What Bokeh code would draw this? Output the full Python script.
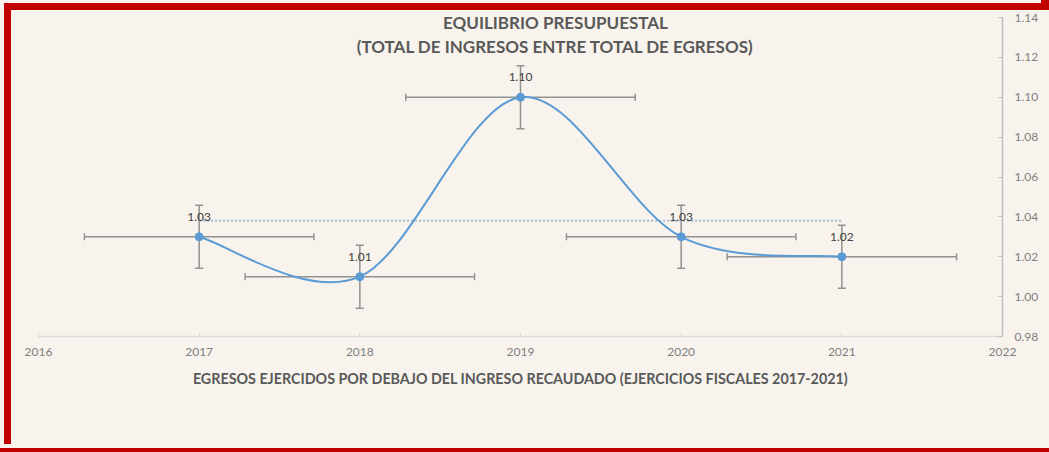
import math
from bokeh.plotting import figure
from bokeh.models import ColumnDataSource, FixedTicker, Label, Range1d, PrintfTickFormatter
from bokeh.core.properties import value
from bokeh.embed import file_html
from bokeh.resources import INLINE

# ---- data ----
years = [2017, 2018, 2019, 2020, 2021]
ratios = [1.03, 1.01, 1.10, 1.03, 1.02]
ratio_labels = ["1.03", "1.01", "1.10", "1.03", "1.02"]
x_error = 0.714
y_error = 0.0158
x_ticks = [2016, 2017, 2018, 2019, 2020, 2021, 2022]
y_ticks = [0.98, 1.00, 1.02, 1.04, 1.06, 1.08, 1.10, 1.12, 1.14]
title_line1 = "EQUILIBRIO PRESUPUESTAL"
title_line2 = "(TOTAL DE INGRESOS ENTRE TOTAL DE EGRESOS)"
x_title = "EGRESOS EJERCIDOS POR DEBAJO DEL INGRESO RECAUDADO (EJERCICIOS FISCALES 2017-2021)"
average = sum(ratios) / len(ratios)

# ---- styles ----
BG = "#f8f4ed"
RED = "#c00000"
FONT = "Lato"
BLUE = "#5b9bd5"
ERR = "#929292"

# layout: frame 965 x 331 px; the 1.14 tick sits 12 px below the frame top
FRAME_H = 331
TOP_PAD = 12
y_span = y_ticks[-1] - y_ticks[0]
y_end = y_ticks[-1] + TOP_PAD * y_span / (FRAME_H - TOP_PAD)

p = figure(width=1041, height=444,
           x_range=Range1d(x_ticks[0], x_ticks[-1]),
           y_range=Range1d(y_ticks[0], y_end),
           y_axis_location="right",
           output_backend="svg", toolbar_location=None,
           min_border_left=38, min_border_right=38,
           min_border_top=5, min_border_bottom=108,
           background_fill_color=None, border_fill_color=None,
           outline_line_color=None)
p.grid.visible = False
p.styles = {
    "background-color": BG,
    "box-shadow": (
        f"inset 4px 0 0 {BG}, inset 0 3px 0 {BG}, inset 11px 0 0 {RED}, inset 0 10px 0 {RED}, "
        f"8px -434px 0 {RED}, 0 4px 0 {BG}, 8px 4px 0 {BG}, 0 8px 0 {RED}, 8px 8px 0 {RED}"
    ),
}

xa = p.xaxis[0]
xa.ticker = FixedTicker(ticks=x_ticks)
xa.formatter = PrintfTickFormatter(format="%d")
xa.axis_line_color = "#d9d9d9"
xa.axis_line_width = 1.5
xa.major_tick_line_color = "#d9d9d9"
xa.major_tick_in = 4
xa.major_tick_out = 0
xa.minor_tick_line_color = None
xa.major_label_text_font = FONT
xa.major_label_text_font_size = "12px"
xa.major_label_text_color = "#7f7f7f"
xa.major_label_standoff = 11
xa.axis_label = x_title
xa.axis_label_text_font = FONT
xa.axis_label_text_font_style = "bold"
xa.axis_label_text_font_size = "14.3px"
xa.axis_label_text_color = "#595959"
xa.axis_label_standoff = 11

ya = p.yaxis[0]
ya.ticker = FixedTicker(ticks=y_ticks)
ya.formatter = PrintfTickFormatter(format="%.2f")
ya.bounds = (y_ticks[0], y_ticks[-1])
ya.axis_line_color = "#bfbfbf"
ya.axis_line_width = 1.5
ya.major_tick_line_color = "#bfbfbf"
ya.major_tick_in = 4
ya.major_tick_out = 0
ya.minor_tick_line_color = None
ya.major_label_text_font = FONT
ya.major_label_text_font_size = "12px"
ya.major_label_text_color = "#7f7f7f"
ya.major_label_standoff = 12

src = ColumnDataSource(dict(
    x=years, y=ratios, lab=ratio_labels,
    xl=[v - x_error for v in years], xr=[v + x_error for v in years],
    yl=[v - y_error for v in ratios], yu=[v + y_error for v in ratios],
))

# error bars
p.segment(x0="xl", y0="y", x1="xr", y1="y", source=src, line_color=ERR, line_width=1.5)
p.segment(x0="x", y0="yl", x1="x", y1="yu", source=src, line_color=ERR, line_width=1.5)
p.scatter(x="xl", y="y", source=src, marker="dash", size=7, angle=math.pi / 2, line_color=ERR, line_width=1.5)
p.scatter(x="xr", y="y", source=src, marker="dash", size=7, angle=math.pi / 2, line_color=ERR, line_width=1.5)
p.scatter(x="x", y="yl", source=src, marker="dash", size=8, line_color=ERR, line_width=1.5)
p.scatter(x="x", y="yu", source=src, marker="dash", size=8, line_color=ERR, line_width=1.5)

# average dotted line
p.line(x=[years[0], years[-1]], y=[average, average], line_color="#a3b8d6",
       line_width=2, line_dash="2 2")

# smoothed line (Catmull-Rom as cubic Bezier segments)
n = len(years)
bz = dict(x0=[], y0=[], x1=[], y1=[], cx0=[], cy0=[], cx1=[], cy1=[])
for i in range(n - 1):
    a, b = max(i - 1, 0), min(i + 2, n - 1)
    bz["x0"].append(years[i]); bz["y0"].append(ratios[i])
    bz["x1"].append(years[i + 1]); bz["y1"].append(ratios[i + 1])
    bz["cx0"].append(years[i] + (years[i + 1] - years[a]) / 6)
    bz["cy0"].append(ratios[i] + (ratios[i + 1] - ratios[a]) / 6)
    bz["cx1"].append(years[i + 1] - (years[b] - years[i]) / 6)
    bz["cy1"].append(ratios[i + 1] - (ratios[b] - ratios[i]) / 6)
p.bezier(x0="x0", y0="y0", x1="x1", y1="y1", cx0="cx0", cy0="cy0", cx1="cx1", cy1="cy1",
         source=ColumnDataSource(bz), line_color=BLUE, line_width=2)

p.scatter(x="x", y="y", source=src, size=8, fill_color=BLUE, line_color=BLUE)

p.text(x="x", y="y", text="lab", source=src, y_offset=-20,
       text_align="center", text_baseline="middle",
       text_font=value(FONT), text_font_size="12px", text_color="#404040")

xc = (x_ticks[0] + x_ticks[-1]) / 2
p.add_layout(Label(x=xc, y=y_ticks[-1], x_offset=35, y_offset=-5, text=title_line1,
                   text_align="center", text_baseline="middle",
                   text_font=FONT, text_font_style="bold", text_font_size="17px", text_color="#595959"))
p.add_layout(Label(x=xc, y=y_ticks[-1], x_offset=35, y_offset=-29, text=title_line2,
                   text_align="center", text_baseline="middle",
                   text_font=FONT, text_font_style="bold", text_font_size="17px", text_color="#595959"))

open("out.html", "w").write(file_html(p, INLINE))
